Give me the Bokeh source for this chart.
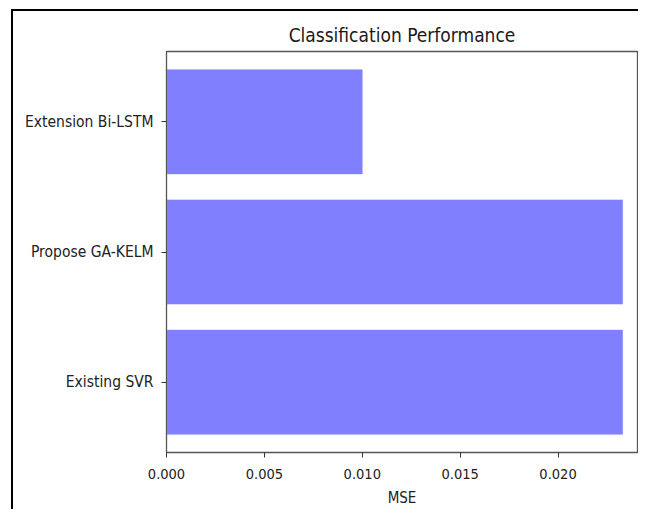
from bokeh.plotting import figure
from bokeh.models import FactorRange, FixedTicker, NumeralTickFormatter, Range1d
from bokeh.embed import file_html
from bokeh.resources import INLINE

categories = ["Existing SVR", "Propose GA-KELM", "Extension Bi-LSTM"]
mse = [0.0233, 0.0233, 0.0100]
x_ticks = [0.000, 0.005, 0.010, 0.015, 0.020]
x_max = 0.02406  # visible end of the MSE axis

FONT = "DejaVu Sans Condensed, Liberation Sans Narrow, DejaVu Sans"

p = figure(
    width=638, height=509,
    y_range=FactorRange(factors=categories, range_padding=0.0267, range_padding_units="percent"),
    x_range=Range1d(0, x_max),
    output_backend="svg", toolbar_location=None,
    title="Classification Performance",
    min_border_left=166, min_border_right=1, min_border_top=51, min_border_bottom=56,
)
# screenshot frame lines (top and left) drawn as CSS background behind a transparent border area
p.styles = {
    "background": "linear-gradient(#000,#000) 11px 9px / 2px 100% no-repeat, "
                  "linear-gradient(#000,#000) 11px 9px / 100% 2px no-repeat, #ffffff",
}
p.border_fill_alpha = 0

p.hbar(y=categories, right=mse, left=0, height=0.8, fill_color="#8080ff", line_color="#8080ff", line_alpha=0.5)

p.title.align = "center"
p.title.text_font = FONT
p.title.text_font_style = "normal"
p.title.text_font_size = "19px"
p.title.text_color = "#1a1a1a"
p.title.standoff = 12

p.xaxis.axis_label = "MSE"
p.xaxis.ticker = FixedTicker(ticks=x_ticks)
p.xaxis.formatter = NumeralTickFormatter(format="0.000")
for ax in (p.xaxis, p.yaxis):
    ax.major_label_text_font = FONT
    ax.axis_label_text_font = FONT
    ax.axis_label_text_font_style = "normal"
    ax.major_label_text_color = "#222222"
    ax.axis_label_text_color = "#222222"
    ax.minor_tick_line_color = None
    ax.major_tick_out = 5
    ax.major_tick_in = 0
    ax.axis_line_color = "#555555"
    ax.major_tick_line_color = "#333333"
p.xaxis.major_label_text_font_size = "14.5px"
p.xaxis.axis_label_text_font_size = "15px"
p.yaxis.major_label_text_font_size = "15.5px"
p.xaxis.axis_label_standoff = 7
p.xaxis.major_label_standoff = 11
p.yaxis.major_label_standoff = 8

p.xgrid.grid_line_color = None
p.ygrid.grid_line_color = None
p.outline_line_color = "#555555"
p.outline_line_width = 1.3
p.background_fill_color = "white"

open("out.html", "w").write(file_html(p, INLINE))
